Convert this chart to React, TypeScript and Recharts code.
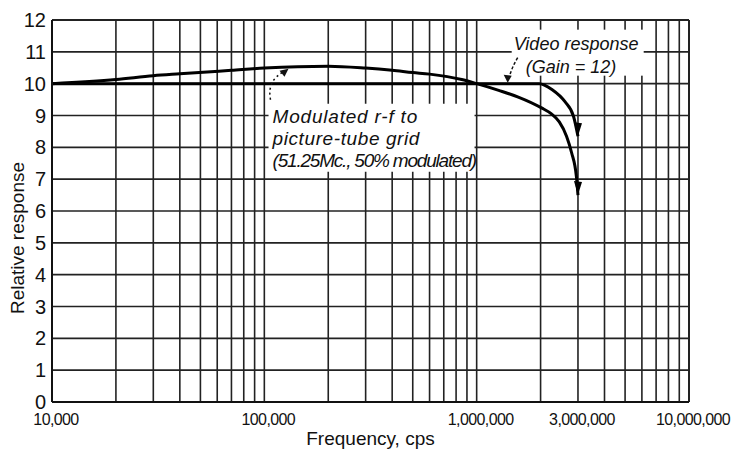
import { LineChart, Line, XAxis, YAxis, ReferenceLine, ReferenceDot } from 'recharts';

// Frequency (cps) / relative response
const videoFreq = [10000, 100000, 1000000, 1970000, 2270000, 2600000, 2860000, 3000000];
const videoResp = [10, 10, 10, 10, 9.81, 9.44, 8.97, 8.35];

const rfFreq = [10000, 20000, 30000, 40000, 70000, 100000, 200000, 300000, 400000, 500000, 600000, 850000, 1000000, 1270000, 1570000, 2020000, 2250000, 2450000, 2650000, 2800000, 2950000, 3000000];
const rfResp = [10, 10.13, 10.25, 10.31, 10.42, 10.49, 10.55, 10.49, 10.42, 10.35, 10.3, 10.13, 10.0, 9.79, 9.58, 9.24, 9.05, 8.8, 8.35, 7.83, 7.07, 6.5];

const xTicks = [10000, 100000, 1000000, 3000000, 10000000];
const yTicks = [0, 1, 2, 3, 4, 5, 6, 7, 8, 9, 10, 11, 12];
const gridFreqs = [
  20000, 30000, 40000, 50000, 60000, 70000, 80000, 90000, 100000,
  200000, 300000, 400000, 500000, 600000, 700000, 800000, 900000, 1000000,
  2000000, 3000000, 4000000, 5000000, 6000000, 7000000, 8000000, 9000000, 10000000,
];
const gridResp = [1, 2, 3, 4, 5, 6, 7, 8, 9, 10, 11, 12];

const videoData = videoFreq.map((f, i) => ({ f, r: videoResp[i] }));
const rfData = rfFreq.map((f, i) => ({ f, r: rfResp[i] }));

const FONT = "'Liberation Sans', Arial, sans-serif";

const fmt = (v: number) => v.toLocaleString('en-US');

const XTick = (props: any) => {
  const { x, y, payload } = props;
  return (
    <text x={x + 4} y={y + 15} textAnchor="middle" fontSize={16} fontFamily={FONT} fill="#111" letterSpacing={-0.6}>
      {fmt(payload.value)}
    </text>
  );
};

const YTick = (props: any) => {
  const { x, y, payload } = props;
  return (
    <text x={x} y={y + 7} textAnchor="end" fontSize={20} fontFamily={FONT} fill="#111">
      {payload.value}
    </text>
  );
};

// arrowhead on the last point of a curve
const endArrow = (len: number) => (props: any) => {
  const { cx, cy, index } = props;
  if (index !== len - 1) return <g key={`d${index}`} />;
  return (
    <polygon
      key={`d${index}`}
      points={`${cx - 4},${cy - 14} ${cx + 4},${cy - 13} ${cx},${cy}`}
      fill="#000"
    />
  );
};

const noteText = { fontStyle: 'italic', fontFamily: FONT, fill: '#111' } as const;

const RfNote = (p: any) => {
  const { cx, cy } = p;
  return (
    <g>
      <rect x={cx - 20} y={cy + 36} width={206} height={68} fill="#fff" />
      <path d={`M${cx - 18},${cy + 32} Q${cx - 22},${cy + 12} ${cx - 3},${cy + 3}`} stroke="#111" strokeWidth={1.5} strokeDasharray="2 3" fill="none" />
      <polygon points={`${cx},${cy + 1} ${cx - 9},${cy + 3} ${cx - 4},${cy + 9}`} fill="#111" />
      <text x={cx - 16} y={cy + 55} fontSize={19} letterSpacing={0.8} {...noteText}>Modulated r-f to</text>
      <text x={cx - 16} y={cy + 77} fontSize={19} letterSpacing={0.6} {...noteText}>picture-tube grid</text>
      <text x={cx - 16} y={cy + 99} fontSize={19} letterSpacing={-1.2} {...noteText}>(51.25Mc., 50% modulated)</text>
    </g>
  );
};

const VideoNote = (p: any) => {
  const { cx, cy } = p;
  return (
    <g>
      <rect x={cx + 4} y={cy - 54} width={132} height={46} fill="#fff" />
      <path d={`M${cx + 10},${cy - 26} Q${cx + 4},${cy - 16} ${cx + 1},${cy - 5}`} stroke="#111" strokeWidth={1.5} strokeDasharray="3 2" fill="none" />
      <polygon points={`${cx},${cy - 1} ${cx - 4},${cy - 9} ${cx + 4},${cy - 8}`} fill="#111" />
      <text x={cx + 6} y={cy - 34} fontSize={18} {...noteText}>Video response</text>
      <text x={cx + 18} y={cy - 11} fontSize={18} {...noteText}>(Gain = 12)</text>
    </g>
  );
};

const App = () => {
  return (
    <div style={{ position: 'absolute', left: 0, top: 0, background: '#fff' }}>
      <LineChart width={737} height={451} margin={{ top: 20, right: 48, bottom: 0, left: 0 }}>
        <XAxis
          dataKey="f"
          type="number"
          scale="log"
          domain={[10000, 10000000]}
          allowDataOverflow
          ticks={xTicks}
          tick={<XTick />}
          tickLine={false}
          axisLine={{ stroke: '#111', strokeWidth: 2 }}
          height={49}
          label={{ value: 'Frequency, cps', position: 'insideBottom', offset: 6, fontSize: 19, fontFamily: FONT, fill: '#111' }}
        />
        <YAxis
          type="number"
          domain={[0, 12]}
          ticks={yTicks}
          tick={<YTick />}
          tickLine={false}
          tickSize={4}
          axisLine={{ stroke: '#111', strokeWidth: 2 }}
          width={52}
          label={{
            content: () => (
              <text x={24} y={238} transform="rotate(-90 24 238)" textAnchor="middle" fontSize={19} fontFamily={FONT} fill="#111">
                Relative response
              </text>
            ),
          }}
        />
        {gridFreqs.map((f) => (
          <ReferenceLine key={`v${f}`} x={f} stroke="#222" strokeWidth={f === 10000000 ? 2 : 1.6} />
        ))}
        {gridResp.map((r) => (
          <ReferenceLine key={`h${r}`} y={r} stroke="#222" strokeWidth={r === 12 ? 2 : 1.6} />
        ))}
        <Line
          data={rfData}
          dataKey="r"
          type="monotone"
          stroke="#000"
          strokeWidth={3}
          dot={endArrow(rfData.length)}
          activeDot={false}
          isAnimationActive={false}
        />
        <Line
          data={videoData}
          dataKey="r"
          type="monotone"
          stroke="#000"
          strokeWidth={3}
          dot={endArrow(videoData.length)}
          activeDot={false}
          isAnimationActive={false}
        />
        <ReferenceDot x={130000} y={10.5} r={0} shape={RfNote} />
        <ReferenceDot x={1400000} y={10} r={0} shape={VideoNote} />
      </LineChart>
    </div>
  );
};

export default App;
